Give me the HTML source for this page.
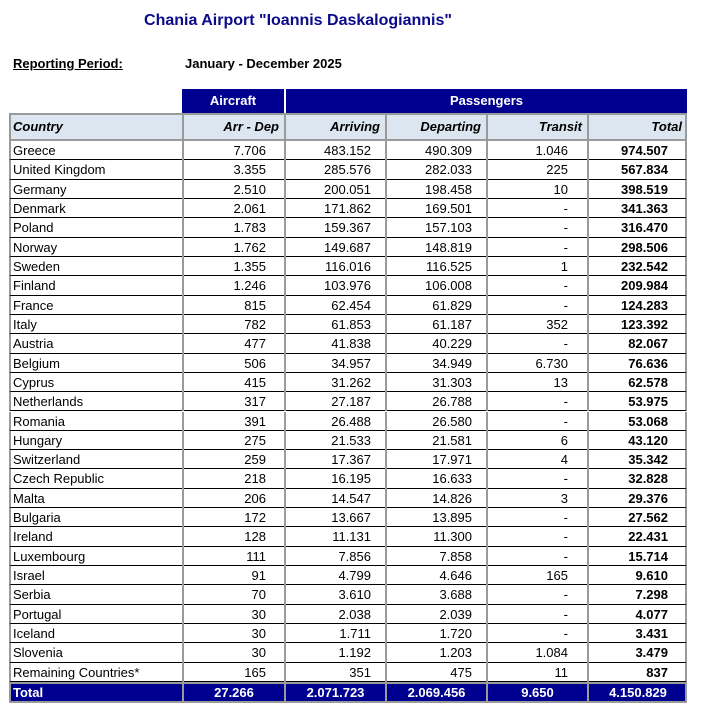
<!DOCTYPE html>
<html><head><meta charset="utf-8"><style>
body{margin:0;width:708px;height:711px;background:#fff;font-family:"Liberation Sans",Arial,sans-serif;position:relative;overflow:hidden}
.a{position:absolute;box-sizing:border-box;white-space:nowrap}
.title{left:0;width:596px;top:12px;text-align:center;font-weight:bold;font-size:16px;color:#0a0a8a}
.c{font-size:13px;color:#000;line-height:19px}
</style></head><body>
<div class="a title">Chania Airport "Ioannis Daskalogiannis"</div>
<div class="a" style="left:13px;top:56px;font-size:13px;font-weight:bold;text-decoration:underline">Reporting Period:</div>
<div class="a" style="left:185px;top:56px;font-size:13px;font-weight:bold">January - December 2025</div>
<div id="t"></div>
<script>
const countries=["Greece","United Kingdom","Germany","Denmark","Poland","Norway","Sweden","Finland","France","Italy","Austria","Belgium","Cyprus","Netherlands","Romania","Hungary","Switzerland","Czech Republic","Malta","Bulgaria","Ireland","Luxembourg","Israel","Serbia","Portugal","Iceland","Slovenia","Remaining Countries*"];
const aircraft=["7.706","3.355","2.510","2.061","1.783","1.762","1.355","1.246","815","782","477","506","415","317","391","275","259","218","206","172","128","111","91","70","30","30","30","165"];
const arriving=["483.152","285.576","200.051","171.862","159.367","149.687","116.016","103.976","62.454","61.853","41.838","34.957","31.262","27.187","26.488","21.533","17.367","16.195","14.547","13.667","11.131","7.856","4.799","3.610","2.038","1.711","1.192","351"];
const departing=["490.309","282.033","198.458","169.501","157.103","148.819","116.525","106.008","61.829","61.187","40.229","34.949","31.303","26.788","26.580","21.581","17.971","16.633","14.826","13.895","11.300","7.858","4.646","3.688","2.039","1.720","1.203","475"];
const transit=["1.046","225","10","-","-","-","1","-","-","352","-","6.730","13","-","-","6","4","-","3","-","-","-","165","-","-","-","1.084","11"];
const totals=["974.507","567.834","398.519","341.363","316.470","298.506","232.542","209.984","124.283","123.392","82.067","76.636","62.578","53.975","53.068","43.120","35.342","32.828","29.376","27.562","22.431","15.714","9.610","7.298","4.077","3.431","3.479","837"];
const totalRow=["Total","27.266","2.071.723","2.069.456","9.650","4.150.829"];
const headers=["Country","Arr - Dep","Arriving","Departing","Transit","Total"];
const colX=[9,182,284,385,486,587,687];
const pads=[0,18,14,14,19,19];
const navy="#000090",gray="#9a9a9a";
const t=document.getElementById('t');
function box(x,y,w,h,css,txt,name){const d=document.createElement('div');d.className='a c';d.style.cssText=`left:${x}px;top:${y}px;width:${w}px;height:${h}px;`+css;if(txt!==undefined)d.textContent=txt;


t.appendChild(d);return d;}
box(182,89,102,24,`background:${navy};color:#fff;font-weight:bold;text-align:center;line-height:24px;`,"Aircraft","aircraft-header");
box(286,89,401,24,`background:${navy};color:#fff;font-weight:bold;text-align:center;line-height:24px;`,"Passengers","passengers-header");
box(9,113,678,28,`background:#dce6f1;border:2px solid ${gray};`,undefined,"column-header-row");
for(let i=0;i<6;i++){const x=colX[i],w=colX[i+1]-x;
 box(x,115,w,24,`font-weight:bold;font-style:italic;line-height:24px;padding:0 ${i?5:4}px;text-align:${i?'right':'left'};`+(i?`border-left:2px solid ${gray};`:''),headers[i],'header-'+headers[i].toLowerCase().replace(/[^a-z]+/g,'-'));}
const y0=141,rh=(682-141)/28;
const cols=[countries,aircraft,arriving,departing,transit,totals];
for(let r=0;r<28;r++){const y=y0+r*rh;
 box(9,y,678,rh,`border-left:2px solid ${gray};border-right:2px solid ${gray};border-bottom:1px solid #000;`,undefined,'row-'+countries[r].toLowerCase().replace(/[^a-z]+/g,'-'));
 for(let i=0;i<6;i++){const x=colX[i],w=colX[i+1]-x;
  let pad=i==0?'padding-left:4px;':`padding-right:${pads[i]}px;`;
  box(x,y,w,rh,`line-height:${rh}px;text-align:${i?'right':'left'};${pad}`+(i?`border-left:2px solid ${gray};`:'')+(i==5?'font-weight:bold;':''),cols[i][r],'cell-'+r+'-'+i);}}
box(9,682,678,21,`background:${navy};border:2px solid ${gray};`,undefined,'total-row');
for(let i=0;i<6;i++){const x=colX[i],w=colX[i+1]-x;
 box(x,684,w,17,`color:#fff;font-weight:bold;line-height:17px;text-align:${i?'center':'left'};padding-left:${i?0:4}px;`+(i?`border-left:2px solid ${gray};`:''),totalRow[i],'total-'+i);}
</script>
</body></html>
